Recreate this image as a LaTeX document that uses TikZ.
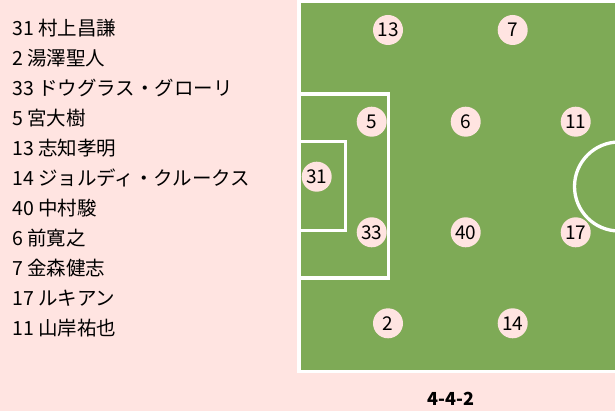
\documentclass[tikz,border=0pt]{standalone}
\usepackage{fontspec}
\newfontfamily\jp{Noto Sans CJK JP}
\definecolor{bg}{HTML}{FFE4E1}
\definecolor{pitch}{HTML}{7EAA56}
\begin{document}
\begin{tikzpicture}[x=1pt,y=-1pt,
  pname/.style={anchor=west,inner sep=0pt,font=\jp\fontsize{19.5}{21}\selectfont},
  player/.style={circle,fill=bg,minimum size=30pt,inner sep=0pt,font=\jp\fontsize{19}{21}\selectfont},
  pline/.style={draw=white,line width=3.3pt,line join=miter}]
\fill[bg] (0,0) rectangle (615,411);
\useasboundingbox (0,0) rectangle (615,411);
\begin{scope}
\clip (0,0) rectangle (615,411);
\fill[white] (297.3,0) rectangle (630,373);
\fill[pitch] (300.6,2.7) rectangle (630,370);
\draw[pline] (299,94) -| (388.3,278) -- (299,278);
\draw[pline] (299,141.7) -| (345.3,230.7) -- (299,230.7);
\draw[pline] (619,186.5) circle (44.5pt);
\end{scope}
% list
\node[pname] (n1) at (12,28) {31 村上昌謙};
\node[pname] (n2) at (12,58) {2 湯澤聖人};
\node[pname] (n3) at (12,88) {33 ドウグラス・グローリ};
\node[pname] (n4) at (12,118) {5 宮大樹};
\node[pname] (n5) at (12,148) {13 志知孝明};
\node[pname] (n6) at (12,178) {14 ジョルディ・クルークス};
\node[pname] (n7) at (12,208) {40 中村駿};
\node[pname] (n8) at (12,238) {6 前寛之};
\node[pname] (n9) at (12,268) {7 金森健志};
\node[pname] (n10) at (12,298) {17 ルキアン};
\node[pname] (n11) at (12,328) {11 山岸祐也};
% players
\node[player] (p13) at (388,30) {13};
\node[player] (p7) at (512.7,30) {7};
\node[player] (p5) at (371.7,121.7) {5};
\node[player] (p6) at (465.7,121.7) {6};
\node[player] (p11) at (575.7,121.7) {11};
\node[player] (p31) at (316.7,176.7) {31};
\node[player] (p33) at (371.7,232.3) {33};
\node[player] (p40) at (465.7,232.3) {40};
\node[player] (p17) at (575.7,232.3) {17};
\node[player] (p2) at (388,323.3) {2};
\node[player] (p14) at (512.7,323.3) {14};
\node[font=\jp\bfseries\fontsize{18}{20}\selectfont] (form) at (450.7,399) {4-4-2};
\end{tikzpicture}
\end{document}
